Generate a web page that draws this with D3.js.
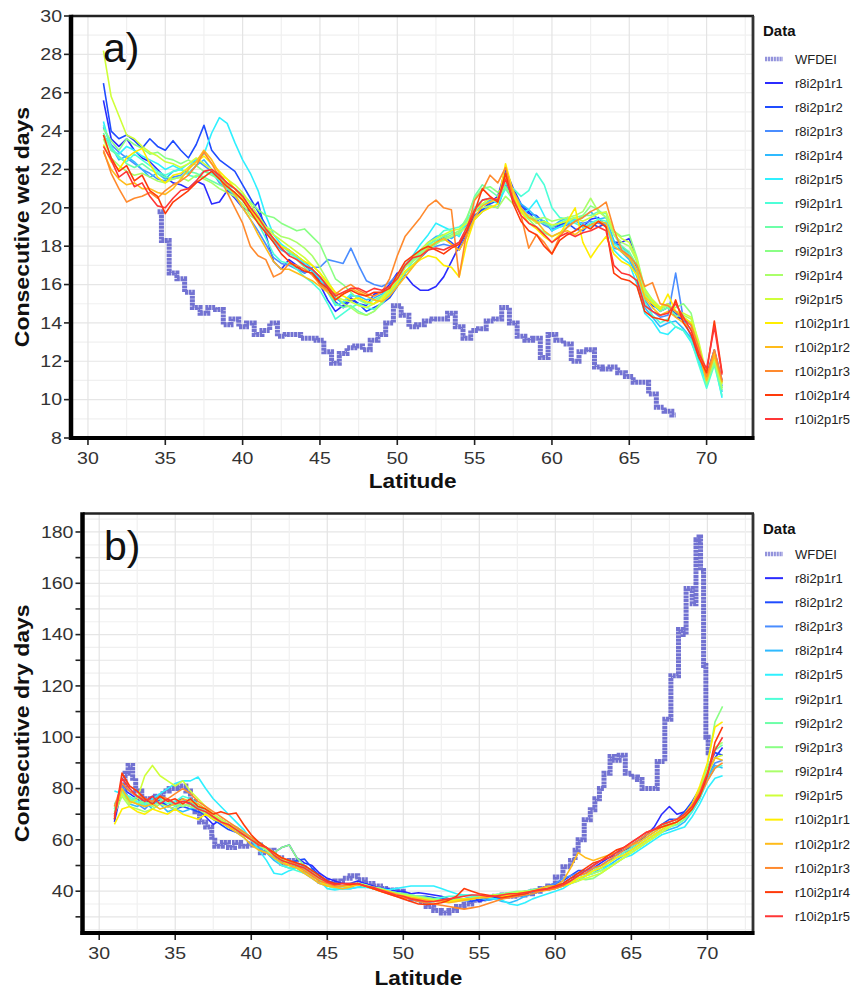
<!DOCTYPE html>
<html><head><meta charset="utf-8">
<script src="https://cdn.jsdelivr.net/npm/d3@7/dist/d3.min.js"></script>
<style>
body{margin:0;background:#fff}
text{font-family:"Liberation Sans",Arial,Helvetica,sans-serif}
</style>
</head><body>
<svg id="c" width="857" height="993"></svg>
<script>
// ---------------- DATA ----------------
const latitudes = [31,31.5,32,32.5,33,33.5,34,34.5,35,35.5,36,36.5,37,37.5,38,38.5,39,39.5,40,40.5,41,41.5,42,42.5,43,43.5,44,44.5,45,45.5,46,46.5,47,47.5,48,48.5,49,49.5,50,50.5,51,51.5,52,52.5,53,53.5,54,54.5,55,55.5,56,56.5,57,57.5,58,58.5,59,59.5,60,60.5,61,61.5,62,62.5,63,63.5,64,64.5,65,65.5,66,66.5,67,67.5,68,68.5,69,69.5,70,70.5,71];

const runNames = ["r8i2p1r1","r8i2p1r2","r8i2p1r3","r8i2p1r4","r8i2p1r5","r9i2p1r1","r9i2p1r2","r9i2p1r3","r9i2p1r4","r9i2p1r5","r10i2p1r1","r10i2p1r2","r10i2p1r3","r10i2p1r4","r10i2p1r5"];
const runColors = ["#2b2bff","#1f4cff","#4a8dff","#2fbaff","#2ff0ff","#4dffd8","#6dffa8","#8aff85","#aaff6a","#cfff3a","#ffee00","#ffbb1a","#ff8a2e","#ff3a0a","#ff3636"];
const wfdeiName = "WFDEI";

const xTicks = [30,35,40,45,50,55,60,65,70];
const yTicksWet = [8,10,12,14,16,18,20,22,24,26,28,30];
const yTicksDry = [40,60,80,100,120,140,160,180];
const yMinorTicksDry = [30,50,70,90,110,130,150,170];

// panel a: consecutive wet days
const wfdeiWetLat = [34.5,35,35.5,36,36.5,37,37.5,38,38.5,39,39.5,40,40.5,41,41.5,42,42.5,43,43.5,44,44.5,45,45.5,46,46.5,47,47.5,48,48.5,49,49.5,50,50.5,51,51.5,52,52.5,53,53.5,54,54.5,55,55.5,56,56.5,57,57.5,58,58.5,59,59.5,60,60.5,61,61.5,62,62.5,63,63.5,64,64.5,65,65.5,66,66.5,67,67.5,68];
const wfdeiWet = [19.8,18.3,16.6,16.3,15.6,14.8,14.5,14.8,14.7,13.9,14.2,13.8,14.0,13.4,13.6,14.0,13.3,13.4,13.4,13.2,13.2,13.1,12.5,11.9,12.4,12.7,12.8,12.6,13.1,13.4,14.0,14.9,14.4,13.8,13.9,14.1,14.2,14.2,14.5,13.8,13.2,13.6,13.7,14.1,14.2,14.8,14.0,13.3,13.1,13.2,12.2,13.4,13.1,12.9,12.0,12.5,12.6,11.7,11.6,11.7,11.4,11.2,10.9,10.9,10.3,9.6,9.4,9.2];

const cwd_r8i2p1r1 = [25.6,23.6,23.2,23.6,23.0,22.6,22.4,22.0,21.6,21.3, 21.2,21.0,21.4,21.2,20.2,20.3,20.9,20.5,20.0,19.8, 20.3,18.6,17.2,16.8,17.3,17.0,16.6,16.8,16.0,15.2, 14.6,14.9,15.3,15.0,14.9,15.5,15.6,16.0,16.6,16.5, 16.0,15.7,15.7,15.9,16.4,17.2,18.0,18.8,19.6,19.9, 20.3,20.6,22.0,21.0,20.2,19.8,19.2,19.3,18.8,19.1, 19.3,19.4,19.0,19.4,19.5,19.0,18.2,18.2,18.4,17.2, 15.6,14.9,14.7,15.0,14.3,14.2,13.9,11.9,11.2,12.4, 10.9];
const cwd_r8i2p1r2 = [26.5,24.0,23.6,23.8,23.5,23.1,23.6,23.2,23.0,23.5, 23.0,22.6,23.3,24.3,23.0,22.5,22.2,21.9,21.2,20.5, 19.8,19.1,18.3,18.0,17.8,17.5,17.0,16.7,16.2,15.8, 15.1,14.8,15.2,15.0,14.6,14.8,15.0,15.3,15.9,16.6, 17.0,17.4,17.8,18.2,18.5,18.2,17.8,18.6,19.6,19.9, 20.2,20.4,21.8,20.9,20.1,19.7,19.6,19.2,19.0,19.1, 19.2,18.9,18.8,19.2,19.0,19.2,18.2,18.0,17.6,16.9, 15.4,15.0,14.6,14.8,14.5,14.1,14.0,12.6,11.3,12.6, 11.0];
const cwd_r8i2p1r3 = [24.2,23.3,22.9,22.6,22.3,22.0,21.8,21.5,21.4,21.6, 21.7,22.1,22.5,22.2,21.9,21.3,21.0,20.6,20.0,19.4, 18.8,18.1,17.4,17.1,17.0,16.8,16.6,16.9,16.9,17.3, 17.2,17.1,17.9,17.0,16.2,16.0,15.9,16.1,16.5,17.0, 17.3,17.6,17.9,18.0,18.1,18.0,18.2,18.8,19.4,19.8, 20.1,20.0,21.2,20.6,19.8,19.5,19.4,19.1,18.9,19.0, 19.1,19.3,19.2,19.3,19.2,19.1,17.9,17.8,17.5,16.5, 15.2,14.6,14.3,14.4,16.6,14.2,13.3,12.0,11.0,12.2, 10.7];
const cwd_r8i2p1r4 = [23.8,23.2,22.5,22.7,22.4,22.0,21.6,21.8,21.5,21.9, 22.0,21.8,22.2,22.5,22.0,21.6,21.2,21.0,20.6,20.0, 19.5,18.8,18.2,17.8,17.6,17.5,17.2,16.8,16.4,15.9, 15.3,15.0,15.4,15.4,15.2,15.3,15.5,15.8,16.3,16.9, 17.4,17.8,18.2,18.5,18.6,18.4,18.7,19.1,19.8,20.1, 20.4,20.3,21.1,20.8,20.2,19.9,19.5,19.3,19.0,19.3, 19.5,19.3,19.5,19.8,19.4,19.5,18.3,17.7,17.3,16.4, 14.8,14.3,13.8,14.0,14.1,13.7,13.2,12.3,11.0,12.1, 10.4];
const cwd_r8i2p1r5 = [24.5,23.0,22.8,23.2,23.0,22.7,22.5,22.3,22.0,22.2, 22.0,22.3,22.5,22.8,23.9,24.7,24.4,23.4,22.5,21.8, 20.9,19.6,18.6,18.1,17.8,17.4,17.1,16.7,16.3,15.6, 14.9,15.1,15.5,15.3,15.0,15.0,15.4,15.9,16.4,17.0, 17.5,18.1,18.6,19.2,19.0,18.8,18.5,19.3,20.0,20.4, 20.5,20.2,21.0,20.4,19.7,19.9,20.4,19.6,18.8,19.0, 19.2,19.4,19.1,19.0,19.3,19.2,17.8,17.4,17.1,16.0, 14.5,14.1,13.5,13.4,13.8,13.6,13.0,12.0,10.8,12.0, 10.1];
const cwd_r9i2p1r1 = [24.3,23.2,22.6,22.4,22.8,22.5,22.2,21.9,21.7,21.9, 22.0,21.7,21.6,21.9,21.8,21.4,21.0,20.8,20.4,19.8, 19.2,18.4,17.6,17.2,17.1,16.8,16.4,16.1,15.7,15.0, 14.2,14.5,14.8,15.0,14.8,14.7,15.0,15.5,16.0,16.6, 17.2,17.6,18.0,18.4,18.8,18.9,19.0,19.3,20.0,20.2, 20.3,20.4,21.3,21.0,20.6,20.9,21.8,21.2,20.0,19.5, 19.4,19.2,19.0,19.2,19.4,19.3,18.1,17.9,17.6,16.7, 15.1,14.4,14.0,14.2,13.8,13.6,13.1,11.8,10.6,11.8, 10.2];
const cwd_r9i2p1r2 = [23.9,23.0,22.7,22.3,22.1,22.3,22.0,21.8,21.6,21.5, 21.6,21.9,21.8,21.6,21.4,21.2,21.0,20.7,20.4,19.9, 19.3,18.7,18.3,18.0,17.7,17.3,16.9,16.5,16.1,15.6, 15.0,14.8,14.9,14.6,14.4,14.6,15.0,15.6,16.2,16.9, 17.3,17.7,18.1,18.3,18.5,18.7,18.6,19.4,20.6,21.2, 20.9,20.6,21.0,20.5,19.9,19.5,19.3,19.2,19.0,19.2, 19.4,19.5,19.6,19.6,19.8,19.7,18.6,18.0,17.7,17.0, 15.5,15.0,14.6,14.8,14.4,14.3,14.0,12.7,11.2,12.3, 10.6];
const cwd_r9i2p1r3 = [24.1,23.5,23.0,23.6,23.3,23.1,22.8,22.9,22.6,22.5, 22.3,22.5,22.2,21.9,21.7,21.5,21.3,21.0,20.7,20.3, 19.9,19.6,19.5,19.2,19.0,18.8,18.9,18.5,18.1,17.2, 16.3,16.0,15.6,15.2,15.0,15.2,15.4,15.7,16.1,16.6, 17.0,17.5,17.8,18.1,18.4,18.6,18.8,19.5,20.5,21.0, 21.1,20.8,21.1,20.4,19.8,19.4,19.0,18.7,18.5,18.7, 19.0,19.3,19.6,20.1,19.9,19.5,18.8,18.5,18.6,17.4, 15.8,15.2,14.8,14.9,14.8,15.0,14.5,12.8,10.8,11.9, 10.5];
const cwd_r9i2p1r4 = [23.6,22.6,22.2,21.9,21.7,21.8,21.6,21.4,21.3,21.5, 21.6,21.4,21.7,21.5,21.3,21.0,20.8,20.6,20.2,19.6, 19.3,19.0,18.8,18.5,18.4,18.2,17.9,17.5,16.9,16.2, 15.5,15.0,14.8,14.5,14.4,14.6,15.1,15.8,16.4,16.9, 17.2,17.6,18.0,18.2,18.3,18.5,18.7,19.0,19.8,20.0, 20.1,20.0,20.6,20.2,19.8,19.6,19.4,19.5,19.3,19.4, 19.5,19.6,19.8,20.5,19.8,19.5,18.6,18.2,18.0,17.2, 15.6,15.1,14.7,14.9,14.6,14.4,14.2,12.6,10.9,12.1, 10.6];
const cwd_r9i2p1r5 = [28.2,25.8,24.8,23.8,23.6,23.2,22.9,22.7,22.4,22.3, 22.1,22.3,22.6,22.3,22.0,21.7,21.5,21.2,20.8,20.2, 19.6,19.0,18.6,18.3,18.0,17.7,17.4,17.0,16.6,16.0, 15.4,15.2,15.1,14.9,14.8,15.0,15.3,15.8,16.3,17.0, 17.4,17.8,18.2,18.4,18.6,18.8,18.9,19.2,19.9,20.2, 20.5,20.3,21.5,20.6,19.9,19.5,19.2,19.3,19.1,19.2, 19.3,19.5,19.3,19.5,19.7,19.8,18.8,18.4,18.2,17.3, 15.7,15.2,14.8,15.0,14.6,14.5,14.3,13.0,11.3,12.2, 10.8];
const cwd_r10i2p1r1 = [23.3,22.4,22.0,22.6,22.9,23.1,22.3,21.6,21.3,21.7, 21.8,22.1,22.4,22.7,22.3,21.9,21.5,21.0,20.5,19.9, 19.4,18.9,18.4,18.0,17.8,17.5,17.2,17.0,16.6,16.1, 15.6,15.4,15.2,15.3,15.1,15.0,15.2,15.6,16.1,16.7, 17.0,17.3,17.5,17.4,17.0,16.9,16.4,18.2,19.4,19.8, 20.0,20.2,22.3,20.8,19.8,19.2,18.9,18.5,18.2,18.6, 19.3,20.0,18.2,17.4,18.0,18.5,17.6,17.2,17.0,16.5, 15.4,15.0,14.7,15.5,14.6,14.3,14.0,12.6,11.1,12.5, 10.9];
const cwd_r10i2p1r2 = [22.9,22.0,21.5,21.2,21.3,21.0,21.0,20.8,20.7,21.0, 21.5,22.0,22.4,23.0,22.5,21.8,21.2,20.7,20.0,19.4, 18.6,17.9,17.2,16.8,16.8,16.6,16.4,16.2,15.9,15.6, 15.2,15.5,15.8,15.6,15.4,15.2,15.1,15.4,15.9,16.4, 16.9,17.4,17.9,18.2,18.4,18.1,17.8,18.5,19.5,20.1, 20.3,20.5,21.7,20.9,20.0,19.5,19.3,18.8,18.5,18.7, 18.8,18.6,18.9,19.1,19.3,19.2,18.0,17.7,17.4,16.7, 15.3,14.8,14.4,14.6,14.3,14.0,13.7,12.4,11.0,12.3, 10.9];
const cwd_r10i2p1r3 = [23.0,21.8,21.0,20.3,20.5,20.6,20.8,20.5,20.9,21.2, 21.4,21.7,22.2,22.9,22.3,21.6,20.8,20.0,19.2,18.0, 17.5,17.3,16.4,16.6,17.1,17.0,16.8,16.5,16.0,15.7, 15.5,15.8,16.0,15.7,15.5,15.4,15.6,16.3,17.5,18.5, 19.0,19.5,20.1,20.4,20.0,19.9,16.4,18.8,20.4,20.9, 21.7,21.3,22.1,20.5,19.6,17.9,18.6,18.2,17.6,18.5, 19.0,19.3,19.5,19.8,20.0,20.3,18.9,17.8,17.5,17.0, 15.9,16.1,15.0,14.9,14.6,14.2,13.9,12.7,11.2,12.6, 11.0];
const cwd_r10i2p1r4 = [23.8,22.6,21.9,22.2,21.4,21.7,20.9,20.6,19.7,20.3, 20.6,20.9,21.3,21.6,21.9,21.5,21.1,20.8,20.4,19.8, 19.2,18.7,18.2,17.6,17.2,16.9,16.7,16.6,16.1,15.8, 15.2,15.5,15.7,15.5,15.4,15.6,15.6,15.8,16.5,17.2, 17.5,17.8,18.0,17.8,17.6,17.9,18.1,18.8,19.8,21.0, 20.6,20.3,21.8,20.2,19.3,18.8,18.6,18.0,17.6,18.3, 18.6,18.8,19.1,18.9,19.3,19.0,16.6,16.3,16.2,15.9, 14.6,14.3,14.2,14.1,15.2,14.0,13.4,12.2,11.4,14.1, 11.4];
const cwd_r10i2p1r5 = [23.2,22.5,21.6,21.9,21.1,21.3,20.6,20.1,20.0,20.5, 20.9,21.0,21.4,21.9,22.0,21.7,21.3,21.0,20.6,20.0, 19.5,18.9,18.4,17.9,17.5,17.3,17.0,16.8,16.4,15.9, 15.4,15.6,15.8,15.8,15.6,15.8,15.7,15.9,16.3,17.0, 17.4,17.5,17.8,17.9,17.8,18.0,18.2,19.0,19.9,20.4, 20.5,20.4,21.5,20.4,19.6,19.2,19.0,18.6,18.2,18.5, 18.7,18.5,18.7,18.8,19.0,18.8,17.0,16.6,16.5,16.2, 14.9,14.6,14.4,14.5,15.0,14.3,13.6,12.4,11.6,13.8, 11.3];

// panel b: consecutive dry days
const wfdeiDryLat = [31.45,31.7,31.9,32.2,32.4,32.8,33.3,33.7,34.2,34.6,35.2,35.7,36.0,36.3,36.6,37.0,37.4,37.6,38.1,38.5,38.9,39.3,39.7,40.1,40.6,41.0,41.5,42.0,42.5,43.0,43.5,44.0,44.5,45.0,45.5,46.0,46.5,47.0,47.5,48.0,48.5,49.0,49.5,50.0,50.5,51.0,51.5,52.0,52.5,53.0,53.5,54.0,54.5,55.0,55.5,56.0,56.5,57.0,57.5,58.0,58.5,59.0,59.5,60.0,60.5,61.0,61.3,61.5,61.9,62.3,62.6,62.9,63.2,63.6,63.9,64.2,64.6,65.0,65.4,65.7,66.6,66.7,67.2,67.6,68.1,68.4,68.6,69.0,69.25,69.45,69.55,69.75,69.9,70.05,70.1];
const wfdeiDry = [80,86,89,84,79,76,75,77,79,80,81,79,75,71,67,65,61,57.5,59,57,59,57.5,58.5,58,55,56,53,51,52,50,48,46,44,43,44,45,46,44.5,43,42,41,40.5,40,38.5,37,36,34,32.5,31.5,32.5,34,35,36.5,37,37.5,38,38.5,38,38.5,39,40,41,42,45.5,49.5,52,56,60,67.8,71.7,76,80,86,92.5,91,93,86,84.5,83.5,80,80,90.5,107,124,142,140,158,152,177,178,165,128,100,94,94];

const cdd_r8i2p1r1 = [67,80,78,76,74,77,75,73,75,76, 74,72,69,66,68,66,65,63,60,58, 56,55,57,58,53,51,50,47,45,44, 43,43,44,43,42,41,41,40,40,39, 39.4,39,38.5,38,37,36.5,37,37.5,36,37, 37.5,38,38.5,39,40,40.5,41,42,42,43, 45,46,47,49,51,53,54,56,57,59, 62,65,70,73,70,71,74,80,86,92, 96];
const cdd_r8i2p1r2 = [68,82,79,77,75,74,76,73,72,73, 72,71,70,68,66,64,63,62,60,59, 57,54,52,51,52,52.5,49,46,44,43, 42,42,43,42,41,41,40,39,38.5,38, 38,38,37.5,37,37,37,36.5,36,37,36.5, 37,37.5,38,38,39,40,41,42,43,44, 46,48,48,50,52,53,55,56,58,60, 62,64,66,68,68,71,75,80,88,94, 93];
const cdd_r8i2p1r3 = [70,81,76,74,72,75,74,76,73,74, 73,72,71,69,67,66,64,63,61,59, 56,53,51,50,50,49,47,45,43,42, 42,42,42.5,42,41,40.5,40,39.5,38.5,38, 37,37,36.5,36,36.5,37,37,37.5,38,38, 38,38.5,38,38.5,39.5,40,41,42,43,45, 46,47,48,49,50,52,53,55,56,58, 60,62,64,66,67,69,73,78,85,90, 91];
const cdd_r8i2p1r4 = [72,79,74,73,75,72,74,71,72,71, 72,73,71,68,67,65,63,61,58,57, 55,52,50,49,49,47,45,43,42,41.5, 41,41,41.5,42,41,40.5,40,39,38,37, 36,35.5,36,36.5,37,37,36.5,37,37.5,36.5, 37,36,35.5,36.5,38,39,40,41,41,42, 43,44,46,47,49,50,52,54,55,57, 59,61,63,64,65,67,71,76,84,89, 88];
const cdd_r8i2p1r5 = [79,78,76,75,73,76,78,80,82,83, 83,84.5,80,76,73,70,67,64,60,56, 52,47,46.5,48,49,48,47,44,41,40.5, 41,41,41.5,41.5,41,41,40.5,41,41.5,42, 42,42,42,41,40,39,38.5,38.5,38,37.5, 37,36.5,35,34.5,35.5,37,38,39,40,41, 43,45,46,47,48,50,51,53,54,56, 58,60,62,63,64,65,69,74,80,84, 85];
const cdd_r9i2p1r1 = [74,78,77,75,74,75,76,74,75,77, 76,74,72,70,68,66,65,63,60,58, 56,53,50,49,48,47,46,44,42,41, 41,42,43,42.5,41.5,41,40,39.5,39,38.5, 38,37.5,37,37.5,38,38,38.5,38,37.5,38, 38.5,39,39,39.5,40,40.5,41,41.5,42,43, 44,45,46,48,49,51,53,54,56,58, 60,62,63,65,66,68,71,76,83,88, 89];
const cdd_r9i2p1r2 = [71,80,75,77,73,74,77,75,73,75, 75,73,71,69,68,66,64,62,60,58, 56,54,52,51,50,48,46,44,42.5,42, 42,42.5,43,42,41,40.5,40,39,38.5,38, 37.5,37,36.5,36,36,36.5,37,37.5,38,38, 38.5,38,38.5,39,39.5,40,40,41,41.5,42, 44,46,47,48,50,51,53,55,57,59, 61,63,65,67,68,70,74,80,87,95, 97];
const cdd_r9i2p1r3 = [72,79,76,74,75,73,75,76,74,73, 74,72,71,69,68,66,65,63,61,59, 57,55,57,58,53,50,48,45,43,42, 42,43,43,42,41.5,41,40,39.5,39,38.5, 38,37.5,37,36.5,37,37,36.5,37,37.5,38, 38.5,39,39.5,40,40,40.5,41,41.5,42,42.5, 44,45,44.5,45,47,49,51,53,55,57, 59,61,63,65,66,68,72,79,89,106, 112];
const cdd_r9i2p1r4 = [70,77,73,72,71,72,74,73,72,74, 73,72,70,69,67,65,64,62,60,58, 56,54,52,51,50,49,47,45,43,42, 42,42.5,43,42.5,41.5,41,40,39,38.5,38, 37.5,37,36.5,36,36,36.5,36.5,37,37.5,38, 38,38.5,38.5,39,39.5,40,40.5,41,41.5,42, 44,45,46,47,48,49,51,53,55,57, 59,61,63,65,67,69,73,79,87,96, 98];
const cdd_r9i2p1r5 = [73,78,74,76,85,89,85,83,81,83, 79,76,73,70,68,66,65,63,61,59, 57,55,53,51,50,48,46,44,43,42, 42,42,42.5,42,41,40.5,40,39,38.5,38, 37.5,37,36.5,36,36,36,36.5,37,37.5,38, 38,38.5,39,39.5,40,40,40.5,41,41.5,42, 43,44,45,46,47,49,51,53,55,57, 59,61,63,65,67,69,73,78,85,92, 93];
const cdd_r10i2p1r1 = [66,72,73,71,70,72,71,70,72,70, 69,68,70,68,67,65,64,62,60,58, 57,55,52,50,49,48,46,44,42,41.5, 42,42,42.5,42,41,40,39.5,38.5,38,37.5, 37,36.5,36,36.5,36,36.5,37,37,37.5,38, 38.5,38,38.5,39,39.5,40,40,40.5,41,42, 43,45,46,48,49,51,53,54,56,58, 60,62,64,66,67,70,74,81,90,104, 106];
const cdd_r10i2p1r2 = [70,80,75,74,73,74,72,73,74,76, 75,74,72,69,67,65,63,61,58,56, 55,53,51,50,49,47,45,43,42,41.5, 41,41.5,42.5,42,41,40.5,40,39,38,37.5, 37,36.5,36,36,35.5,36,36.5,37,37.5,37.5, 38,38.5,39,39,39.5,40,41,42,42,44, 49,55,53,52,53,54,55,57,58,59, 61,63,65,66,67,70,74,79,86,92, 91];
const cdd_r10i2p1r3 = [73,82,79,77,76,75,77,76,78,80, 78,75,73,71,69,67,65,63,61,59, 57,55,53,52,50,48,46,44,43,42, 42,42.5,43,42,41,40,39,38,37.5,37, 36,35.5,35,34.5,34,33.5,33,33.5,34,35, 36,37,37.5,38,38.5,39,40,40.5,41,42, 44,46,47,49,50,52,54,56,58,60, 62,64,66,67,68,70,73,77,83,88, 90];
const cdd_r10i2p1r4 = [68,86,81,79,76,74,77,75,76,74, 76,73,72,70,71,70,70.5,66,62,59, 57,55,53,52,51,50,48,46,44,43, 43,42.5,43,42,41,40,39,38,37,36, 35,34.8,35,35.5,36.5,38,41,40,39,38.5, 38,37.5,38,38.5,39,40,40.5,41,42,43, 45,47,49,51,52,54,56,57,59,61, 63,64,65,66,67,69,72,77,85,98, 104];
const cdd_r10i2p1r5 = [69,84,80,77,75,77,74,76,74,75, 74,72,71,69,67,66,64,62,60,58, 57,54,52,51,50,49,47,45,43.5,42.5, 43,43,43,42,41.5,40.5,39.5,38.5,38,37, 36.5,36,36,36.5,37,37.5,38,38.5,38.5,38, 38,38.5,39,39,39.5,40,40.5,41,41.5,42.5, 44,46,48,50,52,53,55,57,59,61, 63,64,66,67,68,70,73,78,86,95, 100];

const wetRuns = [cwd_r8i2p1r1,cwd_r8i2p1r2,cwd_r8i2p1r3,cwd_r8i2p1r4,cwd_r8i2p1r5,cwd_r9i2p1r1,cwd_r9i2p1r2,cwd_r9i2p1r3,cwd_r9i2p1r4,cwd_r9i2p1r5,cwd_r10i2p1r1,cwd_r10i2p1r2,cwd_r10i2p1r3,cwd_r10i2p1r4,cwd_r10i2p1r5];
const dryRuns = [cdd_r8i2p1r1,cdd_r8i2p1r2,cdd_r8i2p1r3,cdd_r8i2p1r4,cdd_r8i2p1r5,cdd_r9i2p1r1,cdd_r9i2p1r2,cdd_r9i2p1r3,cdd_r9i2p1r4,cdd_r9i2p1r5,cdd_r10i2p1r1,cdd_r10i2p1r2,cdd_r10i2p1r3,cdd_r10i2p1r4,cdd_r10i2p1r5];

// ---------------- DRAWING ----------------
const svg = d3.select("#c");
const WF_COLOR = "#3c3cc0";

function stretch(sel, f) {
  sel.each(function () {
    const w = this.getComputedTextLength();
    if (w > 0) {
      this.setAttribute("textLength", (w * f).toFixed(1));
      this.setAttribute("lengthAdjust", "spacingAndGlyphs");
    }
  });
}

function drawPanel(o, idx) {
  const x = d3.scaleLinear().domain([29, 73]).range([o.left, o.right]);
  const y = d3.scaleLinear().domain(o.yDomain).range([o.bottom, o.top]);
  const g = svg.append("g");

  // grid
  const vMinor = d3.range(32.5, 73, 5);
  const vMajor = d3.range(30, 73, 5);
  const hAll = d3.range(o.gridStart, o.yDomain[1], o.gridStep);
  g.selectAll(".hg").data(hAll).join("line")
    .attr("x1", o.left).attr("x2", o.right)
    .attr("y1", d => y(d)).attr("y2", d => y(d))
    .attr("stroke", d => (Math.round(d / o.gridStep) % 2 === 0) ? "#e6e6e6" : "#f0f0f0")
    .attr("stroke-width", 1.2);
  g.selectAll(".vgm").data(vMinor).join("line")
    .attr("x1", d => x(d)).attr("x2", d => x(d))
    .attr("y1", o.top).attr("y2", o.bottom)
    .attr("stroke", "#f0f0f0").attr("stroke-width", 1.2);
  g.selectAll(".vgM").data(vMajor).join("line")
    .attr("x1", d => x(d)).attr("x2", d => x(d))
    .attr("y1", o.top).attr("y2", o.bottom)
    .attr("stroke", "#e4e4e4").attr("stroke-width", 1.2);

  // clip
  const cid = "clip" + idx;
  svg.append("clipPath").attr("id", cid).append("rect")
    .attr("x", o.left).attr("y", o.top).attr("width", o.right - o.left).attr("height", o.bottom - o.top);
  const plot = g.append("g").attr("clip-path", `url(#${cid})`);

  // WFDEI
  const wfPts = o.wfLat.map((la, i) => [la, o.wfVal[i]]);
  const wfLine = d3.line().curve(o.wfCurve).x(d => x(d[0])).y(d => y(d[1]));
  plot.append("path").attr("d", wfLine(wfPts))
    .attr("fill", "none").attr("stroke", WF_COLOR).attr("stroke-opacity", 0.72)
    .attr("stroke-width", 5).attr("stroke-dasharray", "3,0.6");

  // model runs
  const ln = d3.line().x(d => x(d[0])).y(d => y(d[1]));
  o.runs.forEach((vals, k) => {
    const pts = latitudes.map((la, i) => [la, vals[i]]);
    plot.append("path").attr("d", ln(pts))
      .attr("fill", "none").attr("stroke", runColors[k])
      .attr("stroke-width", 1.6).attr("stroke-linejoin", "round");
  });

  // frame
  g.append("line").attr("x1", o.left - 1).attr("x2", o.right + 1).attr("y1", o.top).attr("y2", o.top)
    .attr("stroke", "#222").attr("stroke-width", 2.5);
  g.append("line").attr("x1", o.right).attr("x2", o.right).attr("y1", o.top).attr("y2", o.bottom + 2)
    .attr("stroke", "#333").attr("stroke-width", 2.8);
  g.append("line").attr("x1", o.left - 1.5).attr("x2", o.left - 1.5).attr("y1", o.top - 1.2).attr("y2", o.bottom + 2)
    .attr("stroke", "#000").attr("stroke-width", 4.5);
  g.append("line").attr("x1", o.left - 3.5).attr("x2", o.right + 1.4).attr("y1", o.bottom).attr("y2", o.bottom)
    .attr("stroke", "#000").attr("stroke-width", 4);

  // x ticks
  g.selectAll(".xt").data(xTicks).join("line")
    .attr("x1", d => x(d)).attr("x2", d => x(d))
    .attr("y1", o.bottom + 2).attr("y2", o.bottom + 7)
    .attr("stroke", "#222").attr("stroke-width", 1.6);
  const xl = g.selectAll(".xl").data(xTicks).join("text")
    .attr("x", d => x(d)).attr("y", o.bottom + 26)
    .attr("text-anchor", "middle").attr("font-size", 16).attr("fill", "#333")
    .text(d => d);
  stretch(xl, 1.22);

  // y ticks
  const yTickAll = o.yTicks.concat(o.yMinorTicks);
  g.selectAll(".yt").data(yTickAll).join("line")
    .attr("x1", o.left - 8.5).attr("x2", o.left - 3)
    .attr("y1", d => y(d)).attr("y2", d => y(d))
    .attr("stroke", "#222").attr("stroke-width", 1.6);
  const yl = g.selectAll(".yl").data(o.yTicks).join("text")
    .attr("x", o.left - 10.5).attr("y", d => y(d) + 5.8)
    .attr("text-anchor", "end").attr("font-size", 16).attr("fill", "#333")
    .text(d => d);
  stretch(yl, 1.22);

  // axis titles
  const xt = g.append("text").attr("x", (o.left + o.right) / 2).attr("y", o.bottom + o.xTitleOff)
    .attr("text-anchor", "middle").attr("font-size", 20).attr("font-weight", "bold").attr("fill", "#111")
    .text("Latitude");
  stretch(xt, 1.13);
  const yt = g.append("text")
    .attr("transform", `translate(29,${(o.top + o.bottom) / 2}) rotate(-90)`)
    .attr("text-anchor", "middle").attr("font-size", 20).attr("font-weight", "bold").attr("fill", "#111")
    .text(o.yTitle);
  stretch(yt, 1.15);

  // panel label
  g.append("text").attr("x", o.labelX).attr("y", o.top + 46)
    .attr("font-size", 41).attr("fill", "#111").text(o.label);

  // legend
  const lg = svg.append("g");
  lg.append("text").attr("x", 763).attr("y", o.top + 20)
    .attr("font-size", 15).attr("font-weight", "bold").attr("fill", "#111").text("Data");
  const items = [wfdeiName].concat(runNames);
  items.forEach((name, i) => {
    const yy = o.legY0 + i * o.legStep;
    if (i === 0) {
      lg.append("line").attr("x1", 765).attr("x2", 783).attr("y1", yy).attr("y2", yy)
        .attr("stroke", WF_COLOR).attr("stroke-opacity", 0.55).attr("stroke-width", 4.5)
        .attr("stroke-dasharray", "2.2,0.7");
    } else {
      lg.append("line").attr("x1", 765).attr("x2", 783).attr("y1", yy).attr("y2", yy)
        .attr("stroke", runColors[i - 1]).attr("stroke-width", 2);
    }
    lg.append("text").attr("x", 795).attr("y", yy + 4.7)
      .attr("font-size", 13).attr("fill", "#222").text(name);
  });
}

drawPanel({
  left: 72.5, right: 753, top: 16, bottom: 438,
  yDomain: [8, 30], gridStart: 8, gridStep: 1,
  yTicks: yTicksWet, yMinorTicks: [],
  runs: wetRuns, wfLat: wfdeiWetLat, wfVal: wfdeiWet, wfCurve: d3.curveStep,
  yTitle: "Consecutive wet days", label: "a)", labelX: 103,
  xTitleOff: 50, legY0: 59, legStep: 24
}, 0);

drawPanel({
  left: 84, right: 753, top: 513.5, bottom: 933,
  yDomain: [23.7, 187.2], gridStart: 25, gridStep: 5,
  yTicks: yTicksDry, yMinorTicks: yMinorTicksDry,
  runs: dryRuns, wfLat: wfdeiDryLat, wfVal: wfdeiDry, wfCurve: d3.curveStepAfter,
  yTitle: "Consecutive dry days", label: "b)", labelX: 104,
  xTitleOff: 52, legY0: 554, legStep: 24.15
}, 1);
</script>
</body></html>
